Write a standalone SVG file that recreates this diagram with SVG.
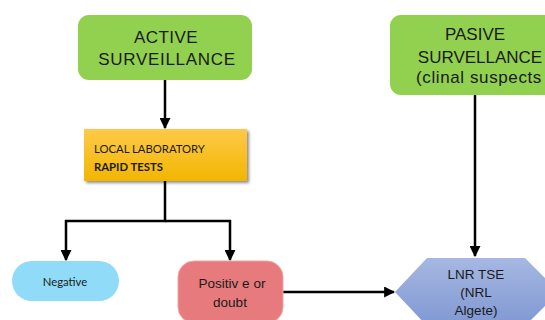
<svg xmlns="http://www.w3.org/2000/svg" width="545" height="320" viewBox="0 0 545 320">
  <defs>
    <linearGradient id="gold" x1="0" y1="0" x2="0" y2="1">
      <stop offset="0" stop-color="#FFC94A"/>
      <stop offset="1" stop-color="#F2B600"/>
    </linearGradient>
    <linearGradient id="blue" x1="0" y1="0" x2="0" y2="1">
      <stop offset="0" stop-color="#A6B8E2"/>
      <stop offset="1" stop-color="#7F97D2"/>
    </linearGradient>
    <filter id="shadow" x="-10%" y="-20%" width="125%" height="150%">
      <feGaussianBlur in="SourceAlpha" stdDeviation="1.5"/>
      <feOffset dx="2" dy="2" result="b"/>
      <feComponentTransfer><feFuncA type="linear" slope="0.45"/></feComponentTransfer>
      <feMerge><feMergeNode/><feMergeNode in="SourceGraphic"/></feMerge>
    </filter>
    <marker id="arrow" viewBox="0 0 10 10" refX="9" refY="5" markerWidth="4.4" markerHeight="4.4" orient="auto" markerUnits="strokeWidth">
      <path d="M0,0 L10,5 L0,10 z" fill="#000"/>
    </marker>
  </defs>
  <style>
    .big { font-family: "Liberation Sans", Arial, sans-serif; font-size: 17px; fill: #1a1a1a; text-anchor: middle; }
    .mid { font-family: "Liberation Sans", Arial, sans-serif; font-size: 13.5px; fill: #1a1a1a; text-anchor: middle; }
    .small { font-family: Lato, "Noto Sans", sans-serif; font-size: 11.3px; fill: #1a1a1a; }
    .conn { fill: none; stroke: #000; stroke-width: 2.5; }
  </style>

  <rect width="545" height="320" fill="#fff"/>

  <!-- connectors -->
  <g id="connectors">
    <path class="conn" d="M165,80 V128" marker-end="url(#arrow)"/>
    <path class="conn" d="M165,181 V221 H66 V260" marker-end="url(#arrow)"/>
    <path class="conn" d="M165,221 H230 V260" marker-end="url(#arrow)"/>
    <path class="conn" d="M475,95 V256" marker-end="url(#arrow)"/>
    <path class="conn" d="M283,292 H394" marker-end="url(#arrow)"/>
  </g>

  <g id="active">
    <rect x="78" y="15" width="174" height="65" rx="11" fill="#92D050"/>
    <text class="big" x="166" y="43" letter-spacing="0.4">ACTIVE</text>
    <text class="big" x="167" y="65" letter-spacing="0.7">SURVEILLANCE</text>
  </g>

  <g id="pasive">
    <rect x="390" y="15" width="172" height="80" rx="11" fill="#92D050"/>
    <text class="big" x="475" y="40">PASIVE</text>
    <text class="big" x="480" y="63">SURVELLANCE</text>
    <text class="big" x="479" y="83" letter-spacing="0.6">(clinal suspects</text>
  </g>

  <g id="local-lab">
    <rect x="84" y="129" width="163" height="52" fill="url(#gold)" filter="url(#shadow)"/>
    <text class="small" x="94" y="153">LOCAL LABORATORY</text>
    <text class="small" x="94" y="171" font-weight="bold">RAPID TESTS</text>
  </g>

  <g id="negative">
    <rect x="12" y="261" width="107" height="40" rx="20" fill="#90DCF8"/>
    <text class="small" x="65" y="286" text-anchor="middle" font-size="12">Negative</text>
  </g>

  <g id="positive">
    <rect x="178" y="261" width="105" height="62" rx="16" fill="#E67A7C" stroke="#EFA2A2" stroke-width="1"/>
    <text class="mid" x="232" y="288" font-size="12.5">Positiv e or</text>
    <text class="mid" x="230" y="307" font-size="12.5">doubt</text>
  </g>

  <g id="lnr-tse">
    <polygon points="395,292 427,258 525,258 559,292 525,326 427,326" fill="url(#blue)"/>
    <text class="mid" x="476" y="279">LNR TSE</text>
    <text class="mid" x="476" y="297">(NRL</text>
    <text class="mid" x="476" y="315">Algete)</text>
  </g>
</svg>
